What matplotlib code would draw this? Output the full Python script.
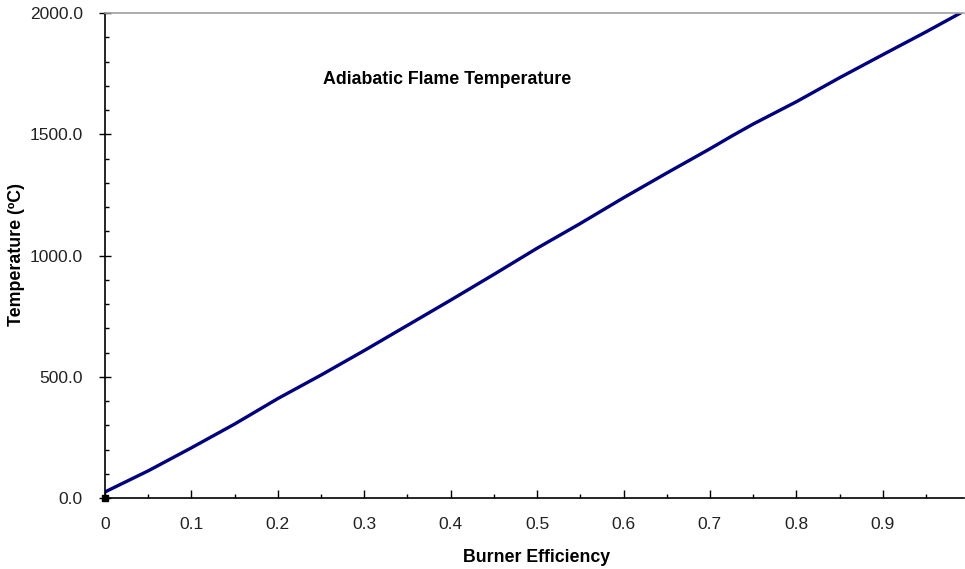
import matplotlib
matplotlib.use("Agg")
import matplotlib.pyplot as plt
from matplotlib.ticker import MultipleLocator, FormatStrFormatter, FuncFormatter

# burner efficiency vs adiabatic flame temperature
efficiency = [0.0, 0.05, 0.10, 0.15, 0.20, 0.25, 0.30, 0.35, 0.40, 0.45, 0.50,
              0.55, 0.60, 0.65, 0.70, 0.725, 0.75, 0.80, 0.85, 0.90, 0.95, 0.99]
temperature = [25, 112, 207, 305, 410, 507, 608, 712, 816, 922, 1030,
               1132, 1238, 1340, 1440, 1492, 1542, 1634, 1733, 1828, 1922, 2000]

title = "Adiabatic Flame Temperature"
xlabel = "Burner Efficiency"
ylabel = "Temperature (ºC)"

plt.rcParams['font.family'] = ['Liberation Sans', 'DejaVu Sans']

fig = plt.figure(figsize=(9.65, 5.69), dpi=100)
ax = fig.add_axes([105 / 965, 1 - 498 / 569, 859 / 965, 485 / 569])

ax.plot(efficiency, temperature, color="#000080", lw=2.4, solid_capstyle="round")
ax.plot([efficiency[0]], [0], marker="s", ms=4, color="black", clip_on=False)

ax.set_xlim(0, 0.994)
ax.set_ylim(0, 2000)

ax.xaxis.set_major_locator(MultipleLocator(0.1))
ax.xaxis.set_minor_locator(MultipleLocator(0.05))
ax.yaxis.set_major_locator(MultipleLocator(500))
ax.yaxis.set_minor_locator(MultipleLocator(100))
ax.xaxis.set_major_formatter(FuncFormatter(lambda v, p: "0" if abs(v) < 1e-9 else "%g" % round(v, 2)))
ax.yaxis.set_major_formatter(FormatStrFormatter("%.1f"))

ax.tick_params(axis="x", which="major", direction="in", length=6, width=1, pad=14,
               labelsize=12.5, labelcolor="#222222")
ax.tick_params(axis="x", which="minor", direction="in", length=3, width=1)
ax.tick_params(axis="y", which="major", direction="inout", length=8, width=1, pad=12,
               labelsize=12.5, labelcolor="#222222")
ax.tick_params(axis="y", which="minor", direction="in", length=3, width=1)

for s in ["left", "bottom"]:
    ax.spines[s].set_color("black")
    ax.spines[s].set_linewidth(1.2)
ax.spines["top"].set_color("#a0a0a0")
ax.spines["top"].set_linewidth(1.2)
ax.spines["right"].set_visible(False)

fig.text(447 / 965, 1 - 80 / 569, title, ha="center", va="center",
         fontsize=12.8, fontweight="bold")
fig.text(537 / 965, 1 - 557 / 569, xlabel, ha="center", va="center",
         fontsize=12.8, fontweight="bold")
fig.text(17 / 965, 1 - 255 / 569, ylabel, ha="center", va="center",
         rotation=90, fontsize=12.8, fontweight="bold")

fig.savefig("out.png", dpi=100)
